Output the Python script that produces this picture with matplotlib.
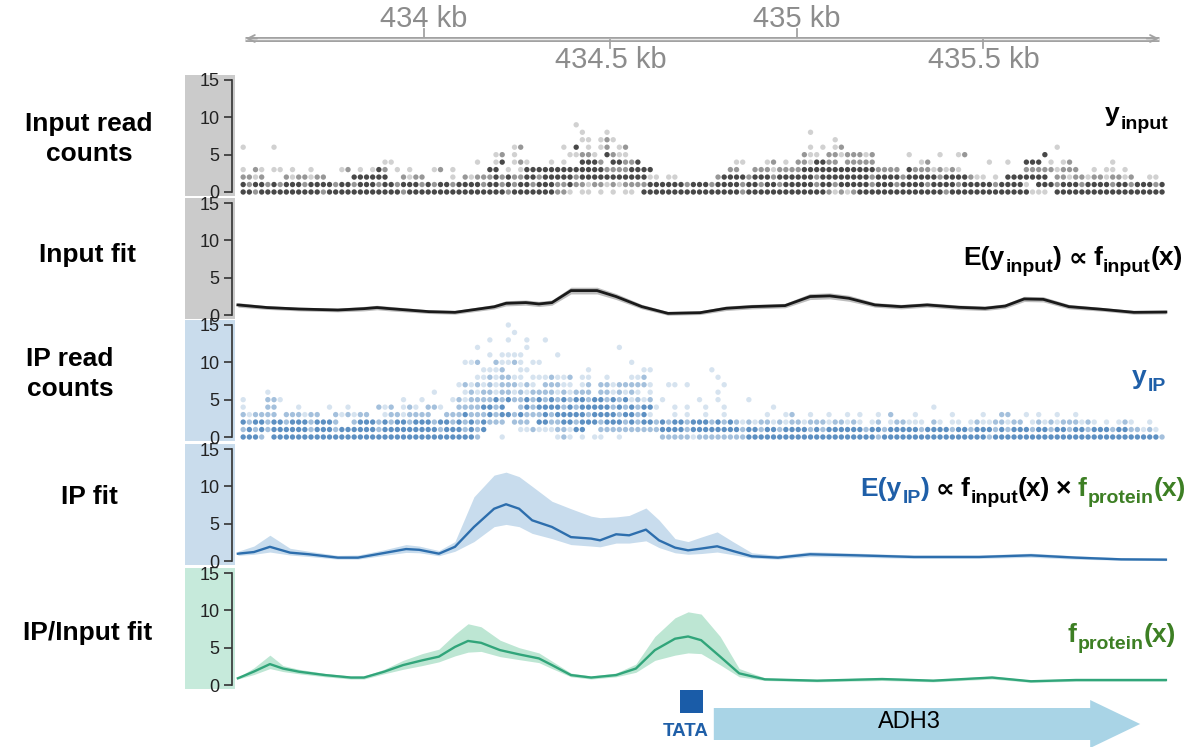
import matplotlib
matplotlib.use("Agg")
import matplotlib.pyplot as plt
import matplotlib.colors as mcolors
from matplotlib.patches import Rectangle, FancyArrow

W, H = 1193, 747
plt.rcParams["font.family"] = ["Liberation Sans", "DejaVu Sans"]

# ---------------- data ----------------
ruler_ticks = [434.0, 434.5, 435.0, 435.5]
ruler_labels = ["434 kb", "434.5 kb", "435 kb", "435.5 kb"]

# read counts: one string per count level (0, 1, 2 ...), 150 bins across the region,
# groups of 10 bins split by '|'.  ' ' none, '.' few, ':' some, '#' many reads
read_start_kb = 433.507
read_bin_kb = 0.016533

input_reads = [
    "##:#######|###:######|######:###|##########|###:######|#::. .. . |. .. #####|##########|#:########|#####:.:.:|##########|####:#####|########..|. ########|##########",
    "#:##:#:###|:####:##:#|##:##:###:|#:##:####:|##:#:##:##|#::#::.::.|:.::::####|##:###:###|#:##:##:##|###:##:###|##:###:###|#:####:###|##:####. #|##:###:###|#:##:###:#",
    "::.:   :.:|:.::    ##|####  :.::|    . :.::|:#:#::##:#|####:#####|######.. .|.      :##|##:###:###|###:######|##:####:##|###:####:.|. . ######|# ::.::.::|.::.:  .. ",
    ". :. .. . | .    .: .| .#: . .  | .: .     |## . .####|#########:|:::####   |         :|:  :::.:::|:#########|###:::: #:|::.:.:.   |       :::|::.:::  . |.. .      ",
    "          |          |   ..     |        . | .# .:.   |. .  ###: |##::#     |          |..   .: . |::.##:: ::|:::       |.:        | .  .  ###| . .:     | .        ",
    "          |          |          |          | .: .     |   ..::. #|:..       |          |          | :.. ::.::|:.:     . |   .  .:  |          |#         |          ",
    ".    .    |          |          |          |    .:    |  . # . .:| .:       |          |          |  . . .:  |          |          |          |  .       |          ",
    "          |          |          |          |          |     .. .:|.         |          |          |      .   ",
    "          |          |          |          |          |     .   .|          |          |          |  .       ",
    "          |          |          |          |          |    .     ",
]

ip_reads = [
    "###: #####|##########|##########|########: |  .       | .:. . .. | .      ::|:::.::::::|::########|##########|###:######|##########|#:########|##########|#########:",
    ":#:#:#####|#:###:####|##:#######|##:###:#:#|     ..:..|.::.##  ::|::::::::##|##:#######|#:##:##:##|##:#:#####|#:##:#####|:####:##:#|##:#:###:#|#:##:##:##|#:##::.:. ",
    "#:##:##:##|#:###:  :#|##:#:##:##|#:##:#:#:#|::: ::: ##|::##:###:#|##:#:##:#:|##:###:#:#|:.:.::.:.:|:.:::.::.:|. .: .::..|. :. .. .:|..::.:: .:|.:.:::.:. |. .:.  .  ",
    ":.:::: :::|.::  :.:.:|:  .::.:::|:  :::#:::|#:##:#:::#|:#####:###|#:##:#.   |. .  .  . |     .  .:|  .  .  . |.  . :   .|     .    |.  ::  . .|  .  .    ",
    ".   ::   .|    .  .  |  :.: .:. |::.  ::::#|#:#  :#:##|##:#:#####|:#:#:##.  |. .  .  . |      .   |          |          |  .       ",
    ".   ::.   |          |      .  .|    .:.:::|:#:#::#:#:|#:#:##:##:|#:#.:.: . |    .  .  |  .       ",
    "    .     |          |          | .    .:.:|:.::.:.:::|:.:.::: ::|.:.:. .   |       .  ",
    "          |          |          |     .:.:.|:.:::.:. :|::.. .: ::|.:::::.  .|. .     . ",
    "          |          |          |        ..|:.::.. ...|:..: ..  .|   ..:    |       .  ",
    "          |          |          |         .|..:  ..   |      .   |     ..   |      .   ",
    "          |          |          |      ..: | :..:. .. |          |   .      ",
    "          |          |          |          |. ....    | .        ",
    "          |          |          |        . |      .   |          | .        ",
    "          |          |          |          |.  .  .  .",
    "          |          |          |          |    .     ",
    "          |          |          |          |   .      ",
]

input_fit_kb = [433.501, 433.579, 433.665, 433.769, 433.839, 433.874, 433.909, 434.013, 434.083,
                434.188, 434.220, 434.273, 434.308, 434.343, 434.394, 434.464, 434.515, 434.584,
                434.654, 434.740, 434.810, 434.879, 434.968, 435.035, 435.088, 435.139, 435.209,
                435.279, 435.349, 435.434, 435.504, 435.558, 435.609, 435.660, 435.729, 435.818,
                435.903, 435.989]
input_fit = [1.35, 1.0, 0.8, 0.67, 0.85, 1.0, 0.85, 0.45, 0.36,
             1.1, 1.57, 1.66, 1.48, 1.66, 3.27, 3.27, 2.47, 1.12,
             0.22, 0.31, 0.9, 1.12, 1.26, 2.47, 2.56, 2.24, 1.35,
             1.12, 1.35, 1.03, 0.9, 1.2, 2.15, 2.1, 1.12, 0.76,
             0.36, 0.4]
input_fit_err = [0.3, 0.25, 0.25, 0.25, 0.3, 0.3, 0.3, 0.25, 0.25,
                 0.3, 0.35, 0.35, 0.35, 0.35, 0.45, 0.45, 0.4, 0.3,
                 0.25, 0.25, 0.3, 0.3, 0.3, 0.4, 0.4, 0.4, 0.3,
                 0.3, 0.3, 0.3, 0.3, 0.3, 0.35, 0.35, 0.3, 0.25,
                 0.25, 0.25]

ip_fit_kb = [433.501, 433.544, 433.587, 433.641, 433.692, 433.769, 433.823, 433.893, 433.952,
             433.987, 434.040, 434.083, 434.134, 434.188, 434.220, 434.255, 434.290, 434.343,
             434.394, 434.448, 434.472, 434.515, 434.550, 434.595, 434.630, 434.673, 434.708,
             434.743, 434.786, 434.828, 434.879, 434.949, 435.035, 435.158, 435.314, 435.488,
             435.627, 435.748, 435.869, 435.989]
ip_fit = [0.98, 1.2, 1.9, 1.12, 0.9, 0.45, 0.45, 1.07, 1.6,
          1.5, 0.98, 1.9, 4.56, 7.0, 7.6, 7.0, 5.45, 4.56,
          3.2, 3.0, 2.77, 3.58, 3.44, 4.2, 2.77, 1.79, 1.43,
          1.66, 1.97, 1.34, 0.63, 0.45, 0.9, 0.76, 0.54, 0.54,
          0.76, 0.45, 0.22, 0.18]
ip_fit_hi = [1.3, 2.0, 3.45, 1.7, 1.3, 0.75, 0.8, 1.5, 2.2,
             2.0, 1.4, 2.6, 8.6, 11.5, 11.9, 11.3, 10.0, 8.0,
             7.0, 6.0, 5.8, 5.9, 6.1, 7.1, 5.5, 3.0, 2.6,
             3.2, 3.9, 2.6, 1.1, 0.75, 1.25, 1.05, 0.8, 0.8,
             1.05, 0.7, 0.45, 0.4]
ip_fit_lo = [0.75, 0.9, 1.2, 0.8, 0.6, 0.25, 0.25, 0.75, 1.15,
             1.1, 0.7, 1.3, 2.6, 4.6, 4.9, 4.6, 3.7, 3.0,
             2.2, 2.0, 1.9, 2.4, 2.4, 2.7, 1.8, 1.1, 0.9,
             1.0, 1.2, 0.85, 0.4, 0.25, 0.6, 0.5, 0.35, 0.35,
             0.5, 0.25, 0.1, 0.05]

ratio_fit_kb = [433.501, 433.544, 433.587, 433.622, 433.665, 433.735, 433.804, 433.839, 433.893,
                433.944, 433.995, 434.040, 434.083, 434.118, 434.153, 434.204, 434.255, 434.308,
                434.343, 434.394, 434.448, 434.515, 434.568, 434.619, 434.673, 434.708, 434.743,
                434.794, 434.845, 434.914, 435.054, 435.228, 435.365, 435.523, 435.627, 435.748,
                435.989]
ratio_fit = [0.9, 1.8, 2.8, 2.2, 1.78, 1.33, 1.0, 1.0, 1.78,
             2.67, 3.3, 3.8, 5.1, 5.9, 5.65, 4.67, 4.1, 3.56,
             2.67, 1.33, 1.0, 1.33, 2.2, 4.67, 6.2, 6.5, 6.0,
             3.8, 1.56, 0.76, 0.58, 0.8, 0.58, 1.0, 0.5, 0.67,
             0.67]
ratio_fit_hi = [1.0, 2.3, 4.0, 2.6, 2.1, 1.55, 1.2, 1.2, 2.1,
                3.3, 4.2, 4.8, 6.8, 8.2, 7.8, 6.0, 5.0, 4.3,
                3.2, 1.6, 1.2, 1.6, 2.8, 6.5, 9.0, 9.8, 9.5,
                6.5, 2.2, 0.95, 0.75, 1.0, 0.75, 1.2, 0.65, 0.85,
                0.85]
ratio_fit_lo = [0.8, 1.4, 2.2, 1.8, 1.5, 1.1, 0.8, 0.8, 1.5,
                2.1, 2.6, 3.1, 3.9, 4.4, 4.5, 3.8, 3.4, 3.0,
                2.2, 1.1, 0.8, 1.1, 1.7, 3.3, 4.0, 4.3, 4.2,
                2.7, 1.1, 0.6, 0.42, 0.6, 0.42, 0.8, 0.35, 0.5,
                0.5]

tata_kb = (434.686, 434.748)
adh3_kb = (434.777, 435.920)

# ---------------- layout helpers ----------------
X_LEFT, X_RIGHT = 232, 1170
XLIM = (433.4853, 436.0)

BLUE_TXT = "#1f5fa8"
GREEN_TXT = "#3d7f24"

fig = plt.figure(figsize=(W / 100, H / 100), dpi=100)


def fx(px):
    return px / W


def fy(py):
    return 1 - py / H


def strip_axes(top_px, bot_px):
    ax = fig.add_axes([fx(X_LEFT), fy(bot_px), (X_RIGHT - X_LEFT) / W, (bot_px - top_px) / H])
    ax.set_xlim(*XLIM)
    ax.set_ylim(bot_px, top_px)
    ax.axis("off")
    return ax


def panel(y15, y0, band_color):
    ppu = (y0 - y15) / 15
    top = y15 - 0.6 * ppu
    bot = y0 + 0.9 * ppu
    fig.add_artist(Rectangle((fx(185), fy(y0 + 4)), 50 / W, (y0 + 4 - (y15 - 5)) / H,
                             transform=fig.transFigure, facecolor=band_color,
                             edgecolor="none", zorder=-1))
    ax = fig.add_axes([fx(X_LEFT), fy(bot), (X_RIGHT - X_LEFT) / W, (bot - top) / H])
    ax.set_xlim(*XLIM)
    ax.set_ylim(-0.9, 15.6)
    ax.patch.set_visible(False)
    for s in ["top", "right", "bottom"]:
        ax.spines[s].set_visible(False)
    ax.spines["left"].set_bounds(0, 15)
    ax.spines["left"].set_linewidth(1.2)
    ax.spines["left"].set_color("#333333")
    ax.set_yticks([0, 5, 10, 15])
    ax.set_xticks([])
    ax.tick_params(axis="y", length=6, width=1.2, color="#333333",
                   labelsize=13, pad=3, labelcolor="#222222")
    return ax


ALPHA = {".": 0.2, ":": 0.45, "#": 0.8}


def draw_reads(ax, rows, color):
    rgb = mcolors.to_rgb(color)
    xs, ys, cs = [], [], []
    for level, row in enumerate(rows):
        cells = "".join(g.ljust(10)[:10] for g in row.split("|"))
        for i, ch in enumerate(cells):
            if ch in ALPHA:
                xs.append(read_start_kb + (i + 0.5) * read_bin_kb)
                ys.append(level)
                cs.append((*rgb, ALPHA[ch]))
    ax.scatter(xs, ys, s=15, c=cs, marker="o", linewidths=0, clip_on=False)


def rich_text(pieces, right_px, base_px, size=19, sub_size=14, sub_drop=7):
    # pieces: (text, color, is_subscript, gap_before_px)
    renderer = fig.canvas.get_renderer()
    items = []
    for s, color, sub, gap in pieces:
        t = fig.text(0, 0, s, color=color, fontsize=sub_size if sub else size,
                     fontweight="bold", ha="left", va="baseline")
        items.append((t, sub, gap, t.get_window_extent(renderer).width))
    x = right_px - sum(w + g for _, _, g, w in items)
    for t, sub, gap, w in items:
        x += gap
        t.set_position((fx(x), fy(base_px + (sub_drop if sub else 0))))
        x += w


# ---------------- ruler ----------------
rax = strip_axes(0, 80)
rax.plot([433.52, 435.97], [38.5, 38.5], color="#a2a2a2", lw=3.6, solid_capstyle="butt")
rax.plot([433.52, 435.97], [38.5, 38.5], color="#ececec", lw=1.0, solid_capstyle="butt")
rax.annotate("", xy=(433.515, 38.5), xytext=(433.56, 38.5),
             arrowprops=dict(arrowstyle="->,head_length=0.5,head_width=0.25", color="#a2a2a2", lw=1.3))
rax.annotate("", xy=(435.978, 38.5), xytext=(435.93, 38.5),
             arrowprops=dict(arrowstyle="->,head_length=0.5,head_width=0.25", color="#a2a2a2", lw=1.3))
for i, (t, lab) in enumerate(zip(ruler_ticks, ruler_labels)):
    if i % 2 == 0:
        rax.plot([t, t], [37, 29], color="#a2a2a2", lw=1.3)
        rax.text(t, 19, lab, ha="center", va="center", fontsize=21, color="#8c8c8c")
    else:
        rax.plot([t, t], [40, 48], color="#a2a2a2", lw=1.3)
        rax.text(t, 60, lab, ha="center", va="center", fontsize=21, color="#8c8c8c")

# ---------------- panels ----------------
ax1 = panel(80, 192, "#cbcbcb")
draw_reads(ax1, input_reads, "#1a1a1a")

ax2 = panel(203, 315, "#cbcbcb")
lo = [v - e for v, e in zip(input_fit, input_fit_err)]
hi = [v + e for v, e in zip(input_fit, input_fit_err)]
ax2.fill_between(input_fit_kb, lo, hi, color="#bdbdbd", lw=0)
ax2.plot(input_fit_kb, input_fit, color="#1a1a1a", lw=2.0)

ax3 = panel(325, 437, "#c9dcec")
draw_reads(ax3, ip_reads, "#3574b3")

ax4 = panel(449, 561, "#c9dcec")
ax4.fill_between(ip_fit_kb, ip_fit_lo, ip_fit_hi, color="#c8dced", lw=0)
ax4.plot(ip_fit_kb, ip_fit, color="#2d6ead", lw=1.7)

ax5 = panel(573, 685, "#c6eadb")
ax5.fill_between(ratio_fit_kb, ratio_fit_lo, ratio_fit_hi, color="#bde6d3", lw=0)
ax5.plot(ratio_fit_kb, ratio_fit, color="#31a57a", lw=1.7)

# ---------------- gene track ----------------
gax = strip_axes(686, 752)
gax.add_patch(FancyArrow(adh3_kb[0], 724, adh3_kb[1] - adh3_kb[0], 0, width=32, head_width=48,
                         head_length=0.134, length_includes_head=True,
                         facecolor="#a9d4e6", edgecolor="none"))
gax.add_patch(Rectangle((tata_kb[0], 690), tata_kb[1] - tata_kb[0], 23,
                        facecolor="#1a5ca8", edgecolor="none"))
gax.text(434.702, 731, "TATA", ha="center", va="center", fontsize=13.5,
         fontweight="bold", color=BLUE_TXT)
gax.text(435.30, 722, "ADH3", ha="center", va="center", fontsize=17, color="black")

# ---------------- labels ----------------
for txt, x, y in [("Input read\ncounts", 89, 139), ("Input fit", 88, 255),
                  ("IP read\ncounts", 70, 374), ("IP fit", 89, 497),
                  ("IP/Input fit", 88, 633)]:
    fig.text(fx(x), fy(y), txt, ha="center", va="center", fontsize=19,
             fontweight="bold", linespacing=1.35)

rich_text([("y", "black", False, 0), ("input", "black", True, 1)], 1168, 121, sub_drop=8)
rich_text([("E(y", "black", False, 0), ("input", "black", True, 1), (")", "black", False, 0),
           ("\u221d", "black", False, 6), ("f", "black", False, 6), ("input", "black", True, 1),
           ("(x)", "black", False, 0)], 1183, 265)
rich_text([("y", BLUE_TXT, False, 0), ("IP", BLUE_TXT, True, 1)], 1166, 384)
rich_text([("E(y", BLUE_TXT, False, 0), ("IP", BLUE_TXT, True, 1), (")", BLUE_TXT, False, 0),
           ("\u221d", "black", False, 6), ("f", "black", False, 6), ("input", "black", True, 1),
           ("(x)", "black", False, 0), ("\u00d7", "black", False, 6),
           ("f", GREEN_TXT, False, 6), ("protein", GREEN_TXT, True, 1), ("(x)", GREEN_TXT, False, 0)],
          1186, 496)
rich_text([("f", GREEN_TXT, False, 0), ("protein", GREEN_TXT, True, 1), ("(x)", GREEN_TXT, False, 0)],
          1176, 642)

fig.savefig("out.png", dpi=100)
